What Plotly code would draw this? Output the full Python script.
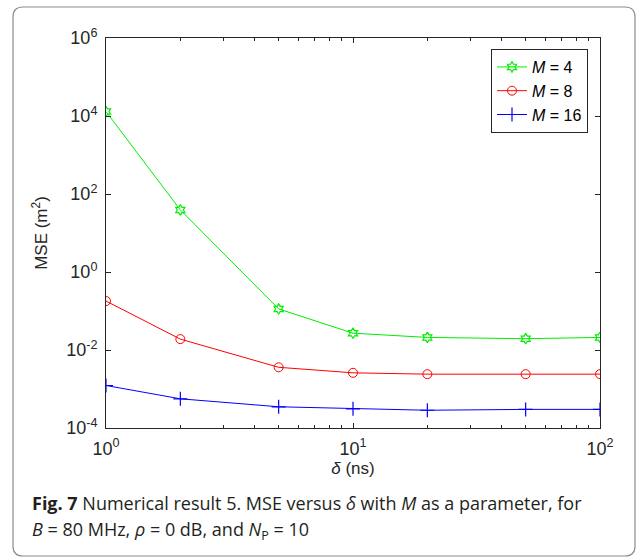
import plotly.graph_objects as go

delta = [1, 2, 5, 10, 20, 50, 100]
mse_m4 = [1.3e4, 39, 0.113, 0.027, 0.021, 0.0195, 0.021]
mse_m8 = [0.18, 0.019, 0.0036, 0.0026, 0.0024, 0.0024, 0.0024]
mse_m16 = [1.23e-3, 5.6e-4, 3.5e-4, 3.1e-4, 2.85e-4, 3.0e-4, 3.0e-4]
names = ["<i>M</i> = 4", "<i>M</i> = 8", "<i>M</i> = 16"]

x_tickvals = [1, 10, 100]
x_ticktext = ["10<sup>0</sup>", "10<sup>1</sup>", "10<sup>2</sup>"]
x_minor = [2, 3, 4, 5, 6, 7, 8, 9, 20, 30, 40, 50, 60, 70, 80, 90]
y_tickvals = [1e-4, 1e-2, 1e0, 1e2, 1e4, 1e6]
y_ticktext = ["10<sup>-4</sup>", "10<sup>-2</sup>", "10<sup>0</sup>",
              "10<sup>2</sup>", "10<sup>4</sup>", "10<sup>6</sup>"]

W, H = 639, 559
L, R, T, B = 106, 600, 38, 428


def px(X):
    return (X - L) / (R - L)


def py(Y):
    return (B - Y) / (B - T)


fig = go.Figure()
fig.add_trace(go.Scatter(x=delta, y=mse_m4, name=names[0], mode="lines+markers",
                         line=dict(color="#00ee00", width=1),
                         marker=dict(symbol="hexagram-open", size=8, color="#00ee00",
                                     line=dict(width=1.2, color="#00ee00"))))
fig.add_trace(go.Scatter(x=delta, y=mse_m8, name=names[1], mode="lines+markers",
                         line=dict(color="#ff0000", width=1),
                         marker=dict(symbol="circle-open", size=9, color="#ff0000",
                                     line=dict(width=1, color="#ff0000"))))
fig.add_trace(go.Scatter(x=delta, y=mse_m16, name=names[2], mode="lines+markers",
                         line=dict(color="#0000ff", width=1),
                         marker=dict(symbol="cross-thin-open", size=10, color="#0000ff",
                                     line=dict(width=1.2, color="#0000ff"))))

tick_font = dict(family="Liberation Sans, Arial", size=18, color="#262626")
title_font = dict(family="Liberation Sans, Arial", size=17, color="#262626")
axis_common = dict(showline=True, linecolor="#262626", linewidth=1, mirror="ticks",
                   ticks="inside", tickcolor="#262626", ticklen=5, showgrid=False,
                   zeroline=False, tickfont=tick_font, ticklabelstandoff=4)

fig.update_xaxes(type="log", range=[0, 2], tickvals=x_tickvals, ticktext=x_ticktext,
                 minor=dict(tickvals=x_minor, ticks="inside", ticklen=3, tickcolor="#262626"),
                 title=dict(text="<i>δ</i> (ns)", standoff=0, font=title_font),
                 **axis_common)
fig.update_yaxes(type="log", range=[-4, 6], tickvals=y_tickvals, ticktext=y_ticktext,
                 title=dict(text="MSE (m<sup>2</sup>)", standoff=14, font=title_font),
                 **axis_common)

# rounded outer frame
x0, x1, y0, y1, r = 13, 635, 7, 556, 10
pts = [
    ("M", x0 + r, y0), ("L", x1 - r, y0), ("Q", x1, y0, x1, y0 + r),
    ("L", x1, y1 - r), ("Q", x1, y1, x1 - r, y1), ("L", x0 + r, y1),
    ("Q", x0, y1, x0, y1 - r), ("L", x0, y0 + r), ("Q", x0, y0, x0 + r, y0),
]
path = ""
for p in pts:
    s = p[0]
    coords = p[1:]
    for i in range(0, len(coords), 2):
        s += f" {px(coords[i]):.5f},{py(coords[i+1]):.5f}"
    path += s + " "
path += "Z"
fig.add_shape(type="path", path=path, xref="paper", yref="paper",
              line=dict(color="#8c8c8c", width=1.2), layer="below")

cap_font = dict(family="Open Sans", size=18, color="#231f20")
fig.add_annotation(xref="paper", yref="paper", x=px(30), y=py(503), xanchor="left",
                   yanchor="middle", showarrow=False, font=cap_font,
                   text="<b>Fig. 7</b> Numerical result 5. MSE versus <i>δ</i> with <i>M</i> as a parameter, for")
fig.add_annotation(xref="paper", yref="paper", x=px(30), y=py(530), xanchor="left",
                   yanchor="middle", showarrow=False, font=cap_font,
                   text="<i>B</i> = 80 MHz, <i>ρ</i> = 0 dB, and <i>N</i><sub>P</sub> = 10")

fig.update_layout(
    width=W, height=H,
    margin=dict(l=L, r=W - R, t=T, b=H - B, pad=0),
    paper_bgcolor="white", plot_bgcolor="white",
    showlegend=True,
    legend=dict(x=px(588), y=py(49), xanchor="right", yanchor="top",
                bordercolor="#262626", borderwidth=1, bgcolor="white",
                font=dict(family="Liberation Sans, Arial", size=16, color="#000000"),
                itemwidth=30, tracegroupgap=0),
)

fig.write_html("out.html", config={"displayModeBar": False},
               post_script="document.body.style.margin='0';document.body.style.overflow='hidden';")
